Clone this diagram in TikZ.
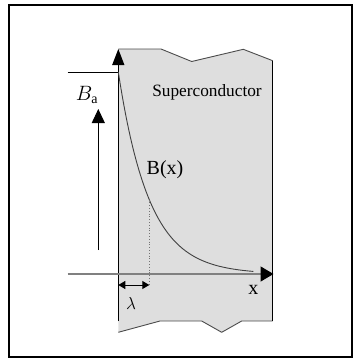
\documentclass[tikz,border=0pt]{standalone}
\usepackage{amsmath,amssymb}
\usepackage{fontspec}
\setmainfont{Liberation Serif}
\usetikzlibrary{arrows.meta, positioning}

\begin{document}
\begin{tikzpicture}[
    x=1pt, y=-1pt,
    frame/.style={
        draw,
        line width=2.4pt
    },
    slab/.style={
        fill=black!13,
        draw=none
    },
    edge/.style={
        draw=black!70,
        line width=0.9pt,
        line join=bevel
    },
    axis/.style={
        line width=1.2pt,
        -{Triangle[length=16pt, width=12pt]}
    },
    xaxis/.style={
        line width=1.5pt,
        draw=black!50,
        -{Triangle[length=13pt, width=15pt, color=black]}
    },
    arrow/.style={
        line width=1pt,
        -{Triangle[length=14pt, width=13pt]}
    },
    lamarrow/.style={
        line width=1pt,
        {Triangle[length=7pt, width=8pt]}-{Triangle[length=7pt, width=8pt]}
    },
    curve/.style={
        draw=black!75,
        line width=0.9pt
    },
    txt/.style={
        inner sep=0pt,
        font=\fontsize{17.28}{20}\selectfont
    },
    bigtxt/.style={
        inner sep=0pt,
        font=\fontsize{20}{24}\selectfont
    }
]
\useasboundingbox (0,0) rectangle (353,359);

% ------------------------------------------------
% Frame and superconductor slab
% ------------------------------------------------

\draw[frame] (8.7,5) rectangle (351.7,357);

\fill[slab] (118.3,49) -- (161,49) -- (191.7,61.5) -- (243.3,49.3)
    -- (272.7,60.7) -- (272.7,321) -- (241.7,321) -- (221.7,332.3)
    -- (201.7,321) -- (160,321) -- (118.3,332.3) -- cycle;

\draw[edge] (118.3,49) -- (161,49) -- (191.7,61.5) -- (243.3,49.3) -- (272.7,60.7);
\draw[edge] (118.3,332.3) -- (160,321) -- (201.7,321) -- (221.7,332.3) -- (241.7,321) -- (272.7,321);
\draw[line width=1pt] (272.7,60.7) -- (272.7,321);

% ------------------------------------------------
% Points
% ------------------------------------------------

\coordinate (origin) at (118.3,274);
\coordinate (ytop)   at (118.3,49);
\coordinate (ybot)   at (118.3,321);
\coordinate (xstart) at (67.7,274);
\coordinate (xend)   at (273.5,274);
\coordinate (level)  at (67.7,72.7);
\coordinate (batail) at (98.3,250);
\coordinate (bahead) at (98.3,109);
\coordinate (lampt)  at (149.3,{274-202*exp(-1)});
\coordinate (lamlow) at (149.3,285);

% ------------------------------------------------
% Labels
% ------------------------------------------------

\node[txt] (super) at (207,92) {Superconductor};
\node[bigtxt] (bx) at (165,170) {B(x)};
\node[bigtxt] (xlab) at (253.3,290) {x};
\node[bigtxt] (ba) at (87,95) {$B_{\mathrm{a}}$};
\node[txt] (lam) at (131,303) {$\lambda$};

% ------------------------------------------------
% Axes and field profile
% ------------------------------------------------

\draw[line width=1pt] (level) -- (level -| origin);
\draw[axis] (ybot) -- (ytop);
\draw[xaxis] (xstart) -- (xend);

\draw[curve] plot[domain=0:135, samples=80] ({118.3+\x}, {274-202*exp(-\x/31)});

\draw[dotted, draw=black!55, line width=0.8pt] (lampt) -- (lamlow);
\draw[lamarrow] (origin |- lamlow) -- (lamlow);

\draw[arrow] (batail) -- (bahead);

\end{tikzpicture}
\end{document}
